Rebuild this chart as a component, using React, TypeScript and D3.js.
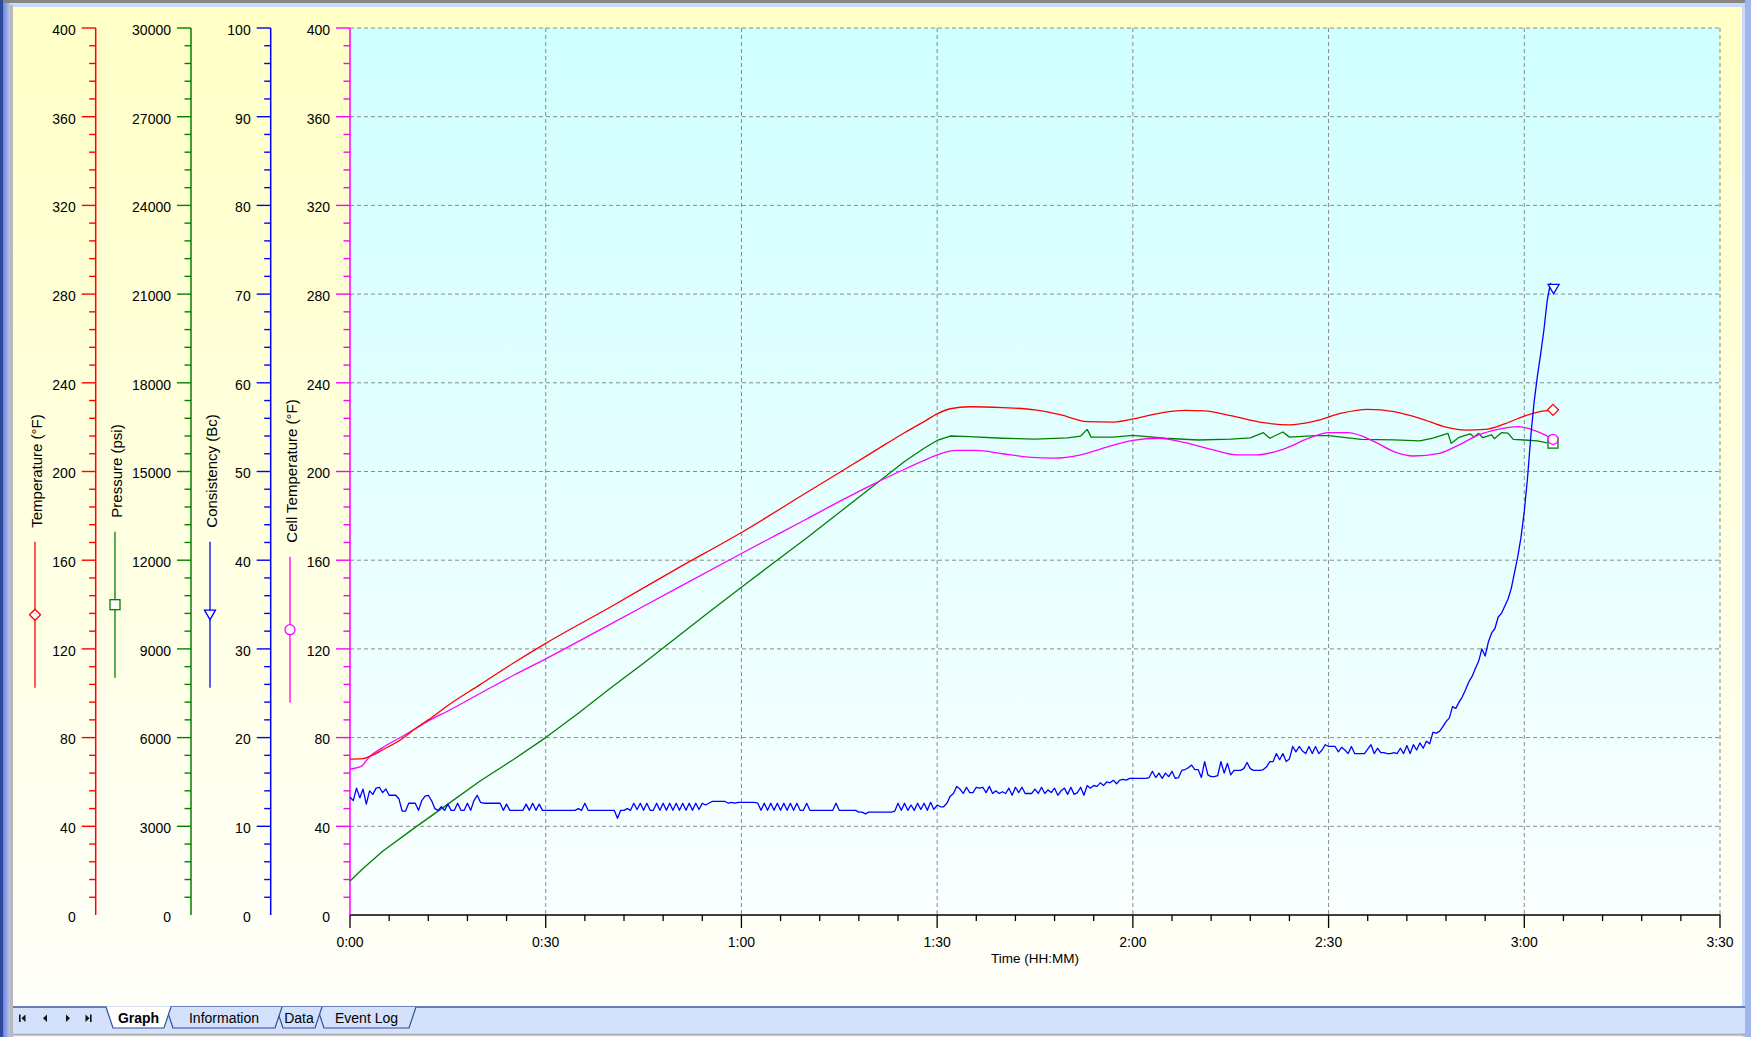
import React, { useEffect, useRef } from "react";
import * as d3 from "d3";

// ---------------- DATA ----------------
// time in minutes
const TEMP_TIMES = [0, 2, 3, 5, 8, 10, 12, 15, 20, 25, 30, 40, 50, 60, 70, 80, 85, 88, 90, 92, 95, 100, 105, 109, 113, 117, 121, 125, 128, 131, 135, 140, 144, 148, 152, 156, 160, 164, 168, 171, 174, 177, 180, 182.4, 184.4];
const TEMP_VALUES = [70.3, 70.5, 71.5, 74.5, 79.5, 84, 88, 94.5, 104, 113.5, 122.5, 139, 156, 172.5, 190.5, 208.5, 217.5, 222.5, 226, 228.3, 229.2, 228.8, 227.8, 225.5, 222.5, 222.3, 224.3, 226.8, 227.6, 227.3, 225.2, 222, 221, 222.8, 226.3, 228, 227, 224, 220, 218.7, 219, 221.5, 225, 227, 227.8];

const CELL_TIMES = [0, 1.7, 3, 5, 8, 10, 12, 15, 20, 25, 30, 40, 50, 60, 70, 76, 80, 85, 88, 90, 93, 96, 100, 104, 108, 112, 116, 120, 124, 128, 132, 136, 139, 143, 147, 150, 153, 157, 160, 163, 167, 170, 173, 176, 179, 181.4, 183.4, 184.4];
const CELL_VALUES = [65.8, 67, 71.4, 75.5, 80.5, 84, 87.5, 92, 100, 108, 115.5, 131.3, 147.2, 163, 178.6, 188, 194, 201, 205, 207.5, 209.5, 209.5, 208, 206.5, 206, 207.5, 211, 214, 215, 213, 210, 207.5, 207.5, 210, 215, 217.5, 217.5, 213.5, 209, 207, 208.2, 212, 216.5, 219, 220.2, 218.7, 216.2, 214.5];

const PRESS_TIMES = [0, 2, 5, 10, 15, 20, 25, 30, 35, 40, 45, 50, 55, 60, 65, 70, 75, 80, 85, 88, 90, 92, 95, 100, 105, 110, 112, 113, 113.6, 117, 120, 125, 130, 135, 138, 140, 141, 143, 144, 148, 150, 155, 160, 164, 166, 168.3, 168.8, 170, 171.7, 172.3, 173, 173.6, 175, 175.4, 176.5, 177.5, 178.3, 180, 182, 183.3, 184.4];
const PRESS_VALUES = [1148, 1575, 2153, 2963, 3750, 4538, 5250, 6000, 6825, 7688, 8513, 9375, 10238, 11085, 11925, 12750, 13613, 14475, 15338, 15788, 16050, 16200, 16178, 16125, 16095, 16140, 16200, 16425, 16163, 16163, 16223, 16125, 16065, 16095, 16140, 16313, 16125, 16335, 16163, 16215, 16215, 16088, 16073, 16035, 16125, 16290, 15953, 16155, 16275, 16163, 16290, 16148, 16238, 16110, 16313, 16298, 16088, 16065, 16035, 15975, 15960];

// consistency sampled every 0.5 min from 0:00
const CONS_START = 0;
const CONS_STEP = 0.5;
const CONS_VALUES = [
  13.3, 12.9, 14.3, 13.2, 14.2, 12.5, 14.0, 13.6, 14.3, 14.4,
  13.8, 14.2, 13.5, 13.5, 13.5, 13.1, 11.7, 11.7, 12.6, 12.6,
  12.6, 11.8, 12.9, 13.4, 13.5, 12.9, 12.0, 11.8, 12.2, 11.8,
  12.5, 11.8, 11.8, 12.6, 11.8, 11.8, 12.6, 11.8, 12.9, 13.5,
  12.7, 12.6, 12.6, 12.6, 12.6, 12.6, 12.6, 11.8, 12.5, 11.8,
  11.8, 11.8, 11.8, 11.8, 12.5, 11.8, 12.6, 11.8, 12.5, 11.8,
  11.8, 11.8, 11.8, 11.8, 11.8, 11.8, 11.8, 11.8, 11.8, 11.8,
  12.0, 11.8, 12.6, 11.8, 11.8, 11.8, 11.8, 11.8, 11.8, 11.8,
  11.8, 11.8, 10.9, 11.8, 11.8, 12.0, 11.8, 12.6, 11.9, 12.6,
  11.8, 12.6, 11.8, 11.8, 12.6, 11.8, 12.6, 11.8, 12.6, 11.8,
  12.6, 11.8, 12.6, 11.8, 12.6, 11.8, 12.6, 11.9, 12.6, 12.4,
  12.6, 12.8, 12.8, 12.8, 12.8, 12.8, 12.6, 12.7, 12.6, 12.7,
  12.7, 12.7, 12.7, 12.7, 12.7, 12.6, 11.8, 12.6, 11.8, 12.6,
  11.8, 12.6, 11.8, 12.6, 11.8, 12.6, 11.8, 12.6, 11.8, 11.8,
  12.6, 11.8, 11.8, 11.8, 11.8, 11.8, 11.8, 11.8, 11.8, 12.6,
  11.8, 11.8, 11.8, 11.8, 11.8, 11.8, 11.6, 11.6, 11.4, 11.6,
  11.6, 11.6, 11.6, 11.6, 11.6, 11.6, 11.6, 11.7, 12.6, 11.8,
  12.6, 11.8, 12.4, 11.8, 12.6, 11.9, 12.6, 11.8, 12.7, 11.9,
  12.4, 12.2, 12.2, 12.6, 13.4, 13.7, 14.5, 14.2, 13.7, 14.4,
  13.8, 13.8, 14.4, 14.3, 14.4, 13.8, 14.5, 13.7, 14.0, 13.7,
  13.9, 13.7, 14.3, 13.5, 14.4, 13.8, 14.4, 13.7, 13.7, 13.7,
  14.2, 13.7, 14.4, 13.7, 14.1, 13.8, 14.3, 13.5, 14.0, 14.3,
  13.6, 14.4, 13.6, 13.8, 14.4, 13.5, 14.6, 14.3, 14.6, 14.5,
  14.9, 14.6, 15.0, 14.9, 15.2, 14.8, 15.2, 15.3, 15.2, 15.4,
  15.4, 15.4, 15.4, 15.4, 15.4, 15.5, 16.2, 15.5, 16.0, 15.4,
  16.0, 15.6, 16.2, 15.4, 15.5, 16.3, 16.4, 16.6, 16.9, 16.4,
  16.4, 15.5, 17.3, 15.8, 15.6, 15.6, 15.7, 17.3, 16.0, 17.1,
  15.8, 16.3, 16.3, 16.3, 16.5, 17.2, 16.5, 16.3, 16.3, 16.3,
  16.4, 16.7, 17.3, 17.3, 18.2, 17.5, 18.2, 17.3, 17.6, 19.0,
  18.4, 19.0, 18.5, 18.2, 19.0, 18.2, 19.0, 18.2, 18.6, 19.2,
  19.0, 19.0, 19.0, 18.4, 18.9, 18.6, 18.2, 19.0, 18.2, 18.2,
  18.2, 18.2, 18.7, 19.2, 18.2, 18.8, 18.3, 18.3, 18.2, 18.2,
  18.3, 18.2, 18.8, 18.2, 19.1, 18.2, 19.2, 18.6, 19.4, 18.8,
  19.6, 19.3, 20.6, 20.5, 20.7, 21.2, 21.8, 22.2, 23.5, 23.3,
  24.0, 24.6, 25.4, 26.3, 26.9, 27.8, 28.6, 30.0, 29.2, 30.8,
  31.8, 32.3, 33.6, 34.0, 34.8, 35.6, 36.8, 38.6, 40.4, 42.6,
  45.5, 49.3, 54.0, 57.8, 60.7, 63.2, 65.9, 69.2, 71.2, 70.6,
];

const X_TICKS = [0, 30, 60, 90, 120, 150, 180, 210];
const X_TICK_LABELS = ["0:00", "0:30", "1:00", "1:30", "2:00", "2:30", "3:00", "3:30"];
const X_MINOR_STEP = 6;
const X_TITLE = "Time (HH:MM)";

const AXIS_TITLES = ["Temperature (°F)", "Pressure (psi)", "Consistency (Bc)", "Cell Temperature (°F)"];
const AXIS_MAX = [400, 30000, 100, 400];
const AXIS_MAJOR = [40, 3000, 10, 40];
const AXIS_MINOR = [8, 600, 2, 8];
const AXIS_MARKERS = ["diamond", "square", "triangle", "circle"];

const TABS = ["Graph", "Information", "Data", "Event Log"];

// ---------------- STYLE / LAYOUT ----------------
const W = 1751;
const H = 1037;
const PLOT_L = 350;
const PLOT_R = 1720;
const PLOT_T = 28;
const PLOT_B = 915;
const AXIS_X = [95.7, 191, 270.7, 350];
const LEGEND_X = [35, 115, 210, 290];
const COLORS = ["#FF0000", "#008000", "#0000FF", "#FF00FF"];
const FONT = "'Liberation Sans', Arial, sans-serif";

function drawMarker(g: any, type: string, cx: number, cy: number, color: string) {
  const sw = 1.3;
  if (type === "diamond") {
    g.append("path").attr("d", `M${cx},${cy - 5.5}L${cx + 5.5},${cy}L${cx},${cy + 5.5}L${cx - 5.5},${cy}Z`)
      .attr("fill", "#fff").attr("stroke", color).attr("stroke-width", sw);
  } else if (type === "square") {
    g.append("rect").attr("x", cx - 5).attr("y", cy - 5).attr("width", 10).attr("height", 10)
      .attr("fill", "#fff").attr("stroke", color).attr("stroke-width", sw);
  } else if (type === "triangle") {
    g.append("path").attr("d", `M${cx - 5.5},${cy - 4.5}L${cx + 5.5},${cy - 4.5}L${cx},${cy + 5}Z`)
      .attr("fill", "#fff").attr("stroke", color).attr("stroke-width", sw);
  } else {
    g.append("circle").attr("cx", cx).attr("cy", cy).attr("r", 5)
      .attr("fill", "#fff").attr("stroke", color).attr("stroke-width", sw);
  }
}

export default function App() {
  const ref = useRef<SVGSVGElement>(null);

  useEffect(() => {
    document.body.style.margin = "0";
    document.body.style.overflow = "hidden";
    const svg = d3.select(ref.current);
    svg.selectAll("*").remove();

    const defs = svg.append("defs");
    const gy = defs.append("linearGradient").attr("id", "gy").attr("x1", 0).attr("y1", 0).attr("x2", 0).attr("y2", 1);
    gy.append("stop").attr("offset", "0%").attr("stop-color", "rgb(255,255,198)");
    gy.append("stop").attr("offset", "100%").attr("stop-color", "rgb(255,255,250)");
    const gc = defs.append("linearGradient").attr("id", "gc").attr("x1", 0).attr("y1", 0).attr("x2", 0).attr("y2", 1);
    gc.append("stop").attr("offset", "0%").attr("stop-color", "rgb(208,255,255)");
    gc.append("stop").attr("offset", "100%").attr("stop-color", "rgb(250,255,255)");
    const gl = defs.append("linearGradient").attr("id", "gl").attr("x1", 0).attr("y1", 0).attr("x2", 1).attr("y2", 0);
    gl.append("stop").attr("offset", "0%").attr("stop-color", "#6f84dc");
    gl.append("stop").attr("offset", "100%").attr("stop-color", "#b9c5f1");

    // window frame
    svg.append("rect").attr("x", 0).attr("y", 0).attr("width", W).attr("height", H).attr("fill", "#f2f2f2");
    svg.append("rect").attr("x", 0).attr("y", 0).attr("width", W).attr("height", 3).attr("fill", "#858585");
    svg.append("rect").attr("x", 0).attr("y", 3).attr("width", W).attr("height", 4).attr("fill", "#cad9f7");
    svg.append("rect").attr("x", 0).attr("y", 0).attr("width", 3).attr("height", H).attr("fill", "#2e4a9c");
    svg.append("rect").attr("x", 3).attr("y", 3).attr("width", 7).attr("height", H - 3).attr("fill", "url(#gl)");
    svg.append("rect").attr("x", 10).attr("y", 5).attr("width", 3).attr("height", H - 5).attr("fill", "#b8b8b8");
    svg.append("rect").attr("x", 1742).attr("y", 3).attr("width", 3).attr("height", H).attr("fill", "#cad9f7");
    svg.append("rect").attr("x", 1745).attr("y", 0).attr("width", 6).attr("height", H).attr("fill", "#9fb5ec");

    // chart panel
    svg.append("rect").attr("x", 13).attr("y", 7).attr("width", 1729).attr("height", 999).attr("fill", "url(#gy)");

    // tab bar
    svg.append("rect").attr("x", 13).attr("y", 1007).attr("width", 1732).attr("height", 26).attr("fill", "#d4e1fa");
    svg.append("line").attr("x1", 13).attr("x2", 1745).attr("y1", 1007).attr("y2", 1007).attr("stroke", "#3a5aa5").attr("stroke-width", 1.5);
    svg.append("rect").attr("x", 13).attr("y", 1033.5).attr("width", 1732).attr("height", 2).attr("fill", "#a9a9a9");

    // plot background
    svg.append("rect").attr("x", PLOT_L).attr("y", PLOT_T).attr("width", PLOT_R - PLOT_L).attr("height", PLOT_B - PLOT_T).attr("fill", "url(#gc)");

    const x = d3.scaleLinear().domain([0, 210]).range([PLOT_L, PLOT_R]);
    const ys = AXIS_MAX.map((m) => d3.scaleLinear().domain([0, m]).range([PLOT_B, PLOT_T]));

    // grid
    const grid = svg.append("g").attr("stroke", "#8a8a8a").attr("stroke-width", 1).attr("stroke-dasharray", "4,3").attr("fill", "none");
    d3.range(AXIS_MAJOR[3], AXIS_MAX[3] + 0.001, AXIS_MAJOR[3]).forEach((v) => {
      grid.append("line").attr("x1", PLOT_L).attr("x2", PLOT_R).attr("y1", ys[3](v)).attr("y2", ys[3](v));
    });
    X_TICKS.slice(1).forEach((t) => {
      grid.append("line").attr("x1", x(t)).attr("x2", x(t)).attr("y1", PLOT_T).attr("y2", PLOT_B);
    });

    // x axis
    const xa = svg.append("g");
    xa.append("line").attr("x1", PLOT_L).attr("x2", PLOT_R + 0.5).attr("y1", PLOT_B).attr("y2", PLOT_B).attr("stroke", "#000").attr("stroke-width", 1.5);
    d3.range(0, 210.001, X_MINOR_STEP).forEach((t) => {
      const major = X_TICKS.indexOf(t) >= 0;
      xa.append("line").attr("x1", x(t)).attr("x2", x(t)).attr("y1", PLOT_B).attr("y2", PLOT_B + (major ? 13 : 6))
        .attr("stroke", "#000").attr("stroke-width", 1.3);
    });
    X_TICKS.forEach((t, i) => {
      xa.append("text").attr("x", x(t)).attr("y", 946.5).attr("text-anchor", "middle")
        .attr("font-family", FONT).attr("font-size", 14).attr("fill", "#000").text(X_TICK_LABELS[i]);
    });
    xa.append("text").attr("x", (PLOT_L + PLOT_R) / 2).attr("y", 963).attr("text-anchor", "middle")
      .attr("font-family", FONT).attr("font-size", 13.5).attr("fill", "#000").text(X_TITLE);

    // y axes
    AXIS_MAX.forEach((m, i) => {
      const g = svg.append("g");
      const ax = AXIS_X[i];
      const col = COLORS[i];
      g.append("line").attr("x1", ax).attr("x2", ax).attr("y1", PLOT_T).attr("y2", PLOT_B).attr("stroke", col).attr("stroke-width", 1.5);
      d3.range(0, m + 0.001, AXIS_MINOR[i]).forEach((v) => {
        const major = Math.abs(v / AXIS_MAJOR[i] - Math.round(v / AXIS_MAJOR[i])) < 1e-6;
        if (v === 0) return;
        g.append("line").attr("x1", ax - (major ? 14 : 6.5)).attr("x2", ax).attr("y1", ys[i](v)).attr("y2", ys[i](v))
          .attr("stroke", col).attr("stroke-width", 1.4);
      });
      d3.range(0, m + 0.001, AXIS_MAJOR[i]).forEach((v) => {
        g.append("text").attr("x", ax - 20).attr("y", ys[i](v) + 6.8).attr("text-anchor", "end")
          .attr("font-family", FONT).attr("font-size", 14).attr("fill", "#000").text(String(v));
      });
      // title + legend sample
      const lx = LEGEND_X[i];
      const cy = 471;
      const t = g.append("text").attr("transform", `translate(${lx + 7},${cy}) rotate(-90)`).attr("text-anchor", "middle")
        .attr("font-family", FONT).attr("font-size", 15).attr("fill", "#000").text(AXIS_TITLES[i]);
      const len = (t.node() as SVGTextElement).getComputedTextLength();
      const y0 = cy + len / 2 + 14;
      const y1 = y0 + 146;
      g.append("line").attr("x1", lx).attr("x2", lx).attr("y1", y0).attr("y2", y1).attr("stroke", col).attr("stroke-width", 1.3);
      drawMarker(g, AXIS_MARKERS[i], lx, (y0 + y1) / 2, col);
    });

    // series
    const series = [
      { t: TEMP_TIMES, v: TEMP_VALUES, ax: 0, curve: d3.curveMonotoneX },
      { t: PRESS_TIMES, v: PRESS_VALUES, ax: 1, curve: d3.curveLinear },
      { t: CONS_VALUES.map((_, i) => CONS_START + i * CONS_STEP), v: CONS_VALUES, ax: 2, curve: d3.curveLinear },
      { t: CELL_TIMES, v: CELL_VALUES, ax: 3, curve: d3.curveMonotoneX },
    ];
    const order = [1, 3, 0, 2];
    order.forEach((si) => {
      const s = series[si];
      const pts = s.t.map((tt, k) => [tt, s.v[k]] as [number, number]);
      const line = d3.line<[number, number]>().x((d) => x(d[0])).y((d) => ys[s.ax](d[1])).curve(s.curve);
      svg.append("path").attr("d", line(pts)!).attr("fill", "none").attr("stroke", COLORS[s.ax])
        .attr("stroke-width", 1.3).attr("stroke-linejoin", "round");
    });
    order.forEach((si) => {
      const s = series[si];
      const last = s.t.length - 1;
      drawMarker(svg, AXIS_MARKERS[s.ax], x(s.t[last]), ys[s.ax](s.v[last]), COLORS[s.ax]);
    });

    // tabs
    const tabG = svg.append("g");
    const tabL = [106, 166, 276, 317];
    const tabR = [171, 282, 322, 416];
    const drawTab = (i: number, active: boolean) => {
      const L = tabL[i], R = tabR[i];
      tabG.append("path").attr("d", `M${L},1007L${L + 7},1028L${R - 7},1028L${R},1007`)
        .attr("fill", active ? "#ffffff" : "#d4e1fa").attr("stroke", "#2f4f9a").attr("stroke-width", 1.2);
      tabG.append("text").attr("x", (L + R) / 2).attr("y", 1023).attr("text-anchor", "middle")
        .attr("font-family", FONT).attr("font-size", 14).attr("font-weight", active ? "bold" : "normal")
        .attr("fill", "#000").text(TABS[i]);
    };
    [3, 2, 1].forEach((i) => drawTab(i, false));
    drawTab(0, true);
    tabG.append("line").attr("x1", 106.8).attr("x2", 170.2).attr("y1", 1007).attr("y2", 1007).attr("stroke", "#ffffff").attr("stroke-width", 1.6);

    // nav buttons
    const nav = svg.append("g").attr("fill", "#111");
    nav.append("rect").attr("x", 19).attr("y", 1014.5).attr("width", 1.6).attr("height", 7.5);
    nav.append("path").attr("d", "M21.5,1018.25L25.5,1014.5L25.5,1022Z");
    nav.append("path").attr("d", "M43,1018.25L47,1014.5L47,1022Z");
    nav.append("path").attr("d", "M70,1018.25L66,1014.5L66,1022Z");
    nav.append("path").attr("d", "M89.5,1018.25L85.5,1014.5L85.5,1022Z");
    nav.append("rect").attr("x", 90).attr("y", 1014.5).attr("width", 1.6).attr("height", 7.5);
  }, []);

  return (
    <svg ref={ref} width={W} height={H} style={{ position: "absolute", left: 0, top: 0, display: "block" }} />
  );
}
